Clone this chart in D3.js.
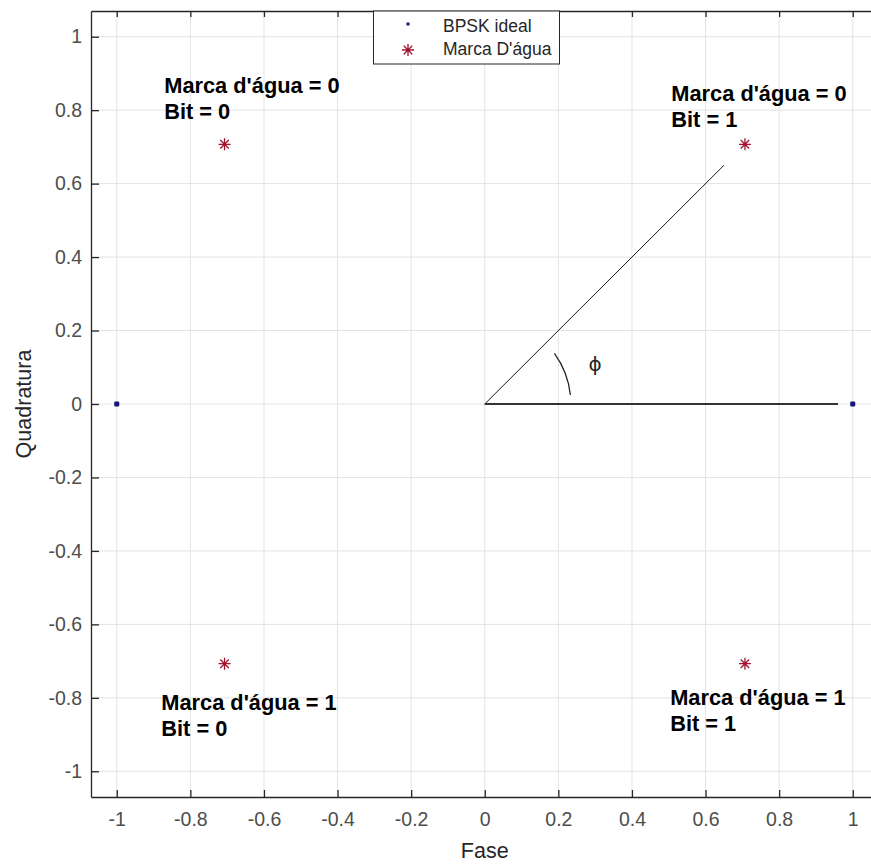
<!DOCTYPE html>
<html>
<head>
<meta charset="utf-8">
<script src="https://cdn.jsdelivr.net/npm/d3@7"></script>
<style>
  html, body { margin: 0; padding: 0; background: #fff; }
  svg { display: block; font-family: "Liberation Sans", Arial, Helvetica, sans-serif; }
</style>
</head>
<body>
<svg id="chart" width="871" height="865"></svg>
<script>
// Ideal BPSK constellation points
const bpskI = [-1, 1];
const bpskQ = [0, 0];

// Watermarked constellation points (rotated by phi = 45 degrees)
const wmI = [-0.7071, 0.7071, -0.7071, 0.7071];
const wmQ = [0.7071, 0.7071, -0.7071, -0.7071];

// Tick values for both axes
const tickValues = [-1, -0.8, -0.6, -0.4, -0.2, 0, 0.2, 0.4, 0.6, 0.8, 1];
const tickLabels = ["-1", "-0.8", "-0.6", "-0.4", "-0.2", "0", "0.2", "0.4", "0.6", "0.8", "1"];

// Annotation labels (data coordinates of first-line baseline)
const noteX = [-0.871, 0.507, -0.879, 0.504];
const noteY = [0.848, 0.826, -0.834, -0.820];
const noteLine1 = ["Marca d'água = 0", "Marca d'água = 0", "Marca d'água = 1", "Marca d'água = 1"];
const noteLine2 = ["Bit = 0", "Bit = 1", "Bit = 0", "Bit = 1"];

// Angle construction: rotated vector, reference axis and arc
const rotatedVec = [[0, 0], [0.65, 0.65]];
const refAxis = [[0, 0], [0.96, 0]];
const arcRadius = 0.234;
const arcFromDeg = 6;
const arcToDeg = 36;
const phiLabel = { x: 0.30, y: 0.11, text: "\u03D5" };

const legendLabels = ["BPSK ideal", "Marca D'água"];

const svg = d3.select("#chart");
const lim = [-1.07, 1.07];
const x = d3.scaleLinear().domain(lim).range([91, 878.5]);
const y = d3.scaleLinear().domain(lim).range([797, 11]);

const axisColor = "#262626";
const tickTextColor = "#4d4d4d";
const gridColor = "#e3e3e3";
const red = "#a2142f";
const navy = "#14147a";

// Grid
const grid = svg.append("g");
grid.selectAll("line.gx").data(tickValues).join("line")
  .attr("x1", d => x(d)).attr("x2", d => x(d))
  .attr("y1", y(lim[0])).attr("y2", y(lim[1]))
  .attr("stroke", gridColor).attr("stroke-width", 1);
grid.selectAll("line.gy").data(tickValues).join("line")
  .attr("y1", d => y(d)).attr("y2", d => y(d))
  .attr("x1", x(lim[0])).attr("x2", x(lim[1]))
  .attr("stroke", gridColor).attr("stroke-width", 1);

// Axes
function styleAxis(g, showText) {
  g.select(".domain").attr("stroke", axisColor).attr("stroke-width", 1.3).attr("fill", "none");
  g.selectAll(".tick line").attr("stroke", axisColor).attr("stroke-width", 1.3);
  g.selectAll(".tick text").attr("fill", tickTextColor).attr("font-size", "19.5px")
    .style("display", showText ? null : "none");
}
const fmt = d => tickLabels[tickValues.indexOf(d)];

svg.append("g").attr("transform", `translate(0,${y(lim[0])})`)
  .call(d3.axisBottom(x).tickValues(tickValues).tickFormat(fmt).tickSizeInner(-7).tickSizeOuter(0).tickPadding(15))
  .call(g => styleAxis(g, true))
  .call(g => g.selectAll(".tick text").attr("dy", "0.71em"));

svg.append("g").attr("transform", `translate(0,${y(lim[1])})`)
  .call(d3.axisTop(x).tickValues(tickValues).tickSizeInner(-6).tickSizeOuter(0))
  .call(g => styleAxis(g, false));

svg.append("g").attr("transform", `translate(${x(lim[0])},0)`)
  .call(d3.axisLeft(y).tickValues(tickValues).tickFormat(fmt).tickSizeInner(-8).tickSizeOuter(0).tickPadding(9))
  .call(g => styleAxis(g, true));

// Axis titles
svg.append("text").attr("x", x(0)).attr("y", 858)
  .attr("text-anchor", "middle").attr("font-size", "21.5px").attr("fill", axisColor)
  .text("Fase");
svg.append("text").attr("transform", `translate(31,${y(0)}) rotate(-90)`)
  .attr("text-anchor", "middle").attr("font-size", "21.5px").attr("fill", axisColor)
  .text("Quadratura");

// Angle construction
const line = d3.line().x(d => x(d[0])).y(d => y(d[1]));
svg.append("path").attr("d", line(rotatedVec)).attr("fill", "none")
  .attr("stroke", "#1a1a1a").attr("stroke-width", 1);
svg.append("path").attr("d", line(refAxis)).attr("fill", "none")
  .attr("stroke", "#333").attr("stroke-width", 1.8);

const rPx = x(arcRadius) - x(0);
const arcGen = d3.arc().innerRadius(rPx).outerRadius(rPx)
  .startAngle((90 - arcToDeg) * Math.PI / 180)
  .endAngle((90 - arcFromDeg) * Math.PI / 180);
svg.append("path").attr("transform", `translate(${x(0)},${y(0)})`)
  .attr("d", arcGen()).attr("fill", "none")
  .attr("stroke", "#1a1a1a").attr("stroke-width", 1.2);

svg.append("text").attr("x", x(phiLabel.x)).attr("y", y(phiLabel.y))
  .attr("text-anchor", "middle").attr("dominant-baseline", "central")
  .attr("font-family", "'DejaVu Sans', 'Liberation Sans', sans-serif")
  .attr("font-size", "20px").attr("fill", "#262626")
  .text(phiLabel.text);

// Asterisk marker path
function asterisk(cx, cy, r) {
  const d = r * Math.SQRT1_2;
  return `M${cx - r},${cy}L${cx + r},${cy}M${cx},${cy - r}L${cx},${cy + r}` +
         `M${cx - d},${cy - d}L${cx + d},${cy + d}M${cx - d},${cy + d}L${cx + d},${cy - d}`;
}

// Ideal BPSK points
svg.append("g").selectAll("rect").data(bpskI.map((v, i) => [v, bpskQ[i]])).join("rect")
  .attr("x", d => x(d[0]) - 2.5).attr("y", d => y(d[1]) - 2.5)
  .attr("width", 5).attr("height", 5).attr("rx", 1)
  .attr("fill", navy);

// Watermarked points
svg.append("g").selectAll("path").data(wmI.map((v, i) => [v, wmQ[i]])).join("path")
  .attr("d", d => asterisk(x(d[0]), y(d[1]), 6))
  .attr("stroke", red).attr("stroke-width", 1.3).attr("fill", "none");

// Annotations
const notes = svg.append("g").attr("font-size", "21.8px").attr("font-weight", "bold").attr("fill", "#000");
noteX.forEach((nx, i) => {
  const t = notes.append("text").attr("x", x(nx)).attr("y", y(noteY[i]));
  t.append("tspan").attr("x", x(nx)).text(noteLine1[i]);
  t.append("tspan").attr("x", x(nx)).attr("dy", 26).text(noteLine2[i]);
});

// Legend
const leg = svg.append("g");
leg.append("rect").attr("x", 373.5).attr("y", 11).attr("width", 186).attr("height", 53)
  .attr("fill", "#fff").attr("stroke", axisColor).attr("stroke-width", 1);
leg.append("rect").attr("x", 406.5).attr("y", 22.5).attr("width", 3).attr("height", 3).attr("fill", navy);
leg.append("path").attr("d", asterisk(408, 50, 6)).attr("stroke", red).attr("stroke-width", 1.3).attr("fill", "none");
leg.selectAll("text").data(legendLabels).join("text")
  .attr("x", 443).attr("y", (d, i) => 32 + i * 23)
  .attr("font-size", "17.5px").attr("fill", axisColor)
  .text(d => d);
</script>
</body>
</html>
